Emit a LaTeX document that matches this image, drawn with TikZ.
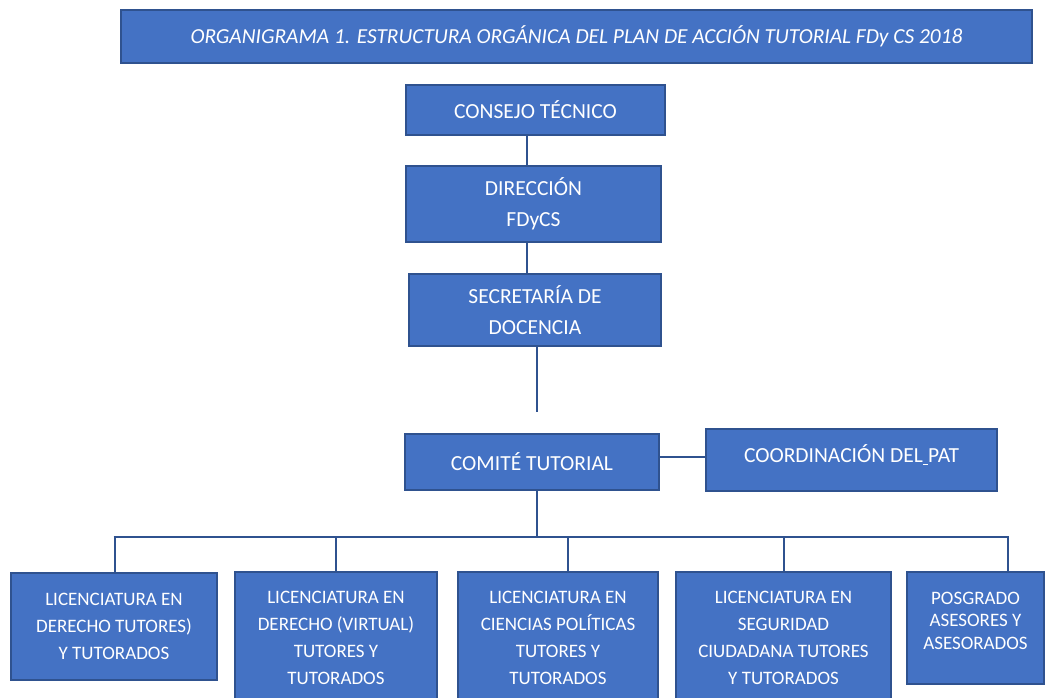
\documentclass[tikz,border=0pt]{standalone}
\usepackage{fontspec}
\setmainfont{Carlito}
\definecolor{boxfill}{HTML}{4472C4}
\definecolor{boxline}{HTML}{2F528F}
\newcommand{\liftup}[2]{\raisebox{0pt}[\height][\dimexpr\depth+#1\relax]{#2}}
\tikzset{
  orgbox/.style={draw=boxline, line width=2pt, fill=boxfill, text=white, align=center, inner sep=0pt},
  toptext/.style={font=\fontsize{21.5}{31}\selectfont},
  bottext/.style={font=\fontsize{19}{27}\selectfont},
  conn/.style={draw=boxline, line width=2.5pt},
}
\begin{document}
\begin{tikzpicture}[x=1pt,y=-1pt]
\useasboundingbox (0,0) rectangle (1046,698);
\clip (0,0) rectangle (1046,698);
% title
\node[orgbox, minimum width=911pt, minimum height=53pt, font=\fontsize{21.4}{24}\selectfont\itshape] (title) at (576.5,36.5) {ORGANIGRAMA 1. ESTRUCTURA ORGÁNICA DEL PLAN DE ACCIÓN TUTORIAL FDy CS 2018};
% chain
\node[orgbox, toptext, minimum width=259pt, minimum height=50pt] (ct) at (535.5,110) {CONSEJO TÉCNICO};
\node[orgbox, toptext, minimum width=255pt, minimum height=76pt] (dir) at (533.5,204) {DIRECCIÓN\\FDyCS};
\node[orgbox, toptext, minimum width=252pt, minimum height=72pt] (sec) at (535,310) {SECRETARÍA DE\\DOCENCIA};
\node[orgbox, toptext, minimum width=254pt, minimum height=56pt] (com) at (532,462) {COMITÉ TUTORIAL};
\node[orgbox, toptext, minimum width=291pt, minimum height=62pt] (pat) at (851.5,460) {\liftup{10pt}{COORDINACIÓN DEL\underline{\hspace{0.25em}}PAT}};
% bottom boxes
\node[orgbox, bottext, minimum width=206pt, minimum height=107pt] (b1) at (114,626.5) {LICENCIATURA EN\\DERECHO TUTORES)\\Y TUTORADOS};
\node[orgbox, bottext, minimum width=202pt, minimum height=132pt] (b2) at (336,638) {LICENCIATURA EN\\DERECHO (VIRTUAL)\\TUTORES Y\\TUTORADOS};
\node[orgbox, bottext, minimum width=200pt, minimum height=132pt] (b3) at (558,638) {LICENCIATURA EN\\CIENCIAS POLÍTICAS\\TUTORES Y\\TUTORADOS};
\node[orgbox, bottext, minimum width=215pt, minimum height=132pt] (b4) at (783.5,638) {LICENCIATURA EN\\SEGURIDAD\\CIUDADANA TUTORES\\Y TUTORADOS};
\node[orgbox, font=\fontsize{19}{22.5}\selectfont, minimum width=137pt, minimum height=112pt] (b5) at (975.5,628) {\liftup{12pt}{\begin{tabular}{@{}c@{}}POSGRADO\\ASESORES Y\\ASESORADOS\end{tabular}}};
% connectors
\coordinate (c1) at (527,0);
\draw[conn] (ct.south -| c1) -- (dir.north -| c1);
\draw[conn] (dir.south -| c1) -- (sec.north -| c1);
\coordinate (secend) at (537,412);
\draw[conn] (sec.south -| secend) -- (secend);
\coordinate (c2) at (0,457);
\draw[conn] (com.east |- c2) -- (pat.west |- c2);
\coordinate (bus) at (537,537);
\draw[conn] (com.south -| bus) -- (bus);
\coordinate (busL) at (113.5,537);
\coordinate (busR) at (1009,537);
\draw[conn] (busL) -- (busR);
\coordinate (d1) at (115,537);
\coordinate (d2) at (336,537);
\coordinate (d3) at (568,537);
\coordinate (d4) at (784,537);
\coordinate (d5) at (1008,537);
\draw[conn] (d1) -- (d1 |- b1.north);
\draw[conn] (d2) -- (d2 |- b2.north);
\draw[conn] (d3) -- (d3 |- b3.north);
\draw[conn] (d4) -- (d4 |- b4.north);
\draw[conn] (d5) -- (d5 |- b5.north);
\end{tikzpicture}
\end{document}
